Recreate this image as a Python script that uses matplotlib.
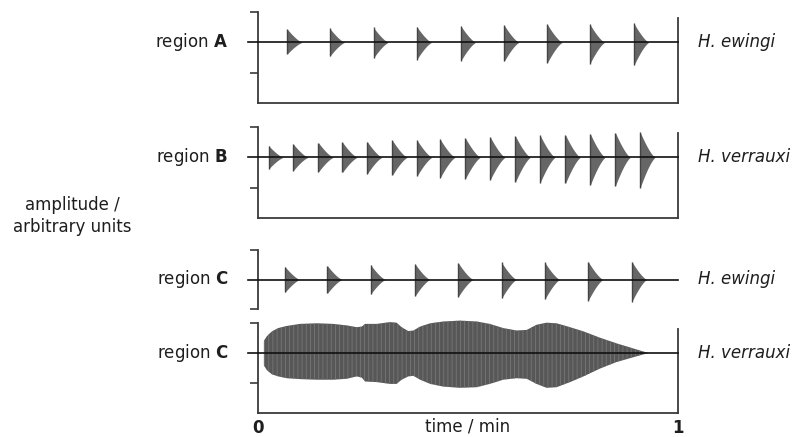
import matplotlib
matplotlib.use("Agg")
import matplotlib.pyplot as plt
import matplotlib.transforms as mtrans
import numpy as np

plt.rcParams['font.family'] = ['DejaVu Sans']
plt.rcParams['hatch.linewidth'] = 0.6

# burst onsets (fraction of 1 min) and peak amplitudes (upper / lower)
a_onsets = [0.070, 0.171, 0.275, 0.378, 0.483, 0.586, 0.689, 0.790, 0.895]
a_upper = [0.43, 0.46, 0.49, 0.52, 0.54, 0.57, 0.59, 0.60, 0.63]
a_lower = [0.38, 0.46, 0.52, 0.57, 0.61, 0.63, 0.67, 0.71, 0.76]

b_onsets = [0.025, 0.084, 0.144, 0.201, 0.260, 0.320, 0.379, 0.434,
            0.494, 0.553, 0.613, 0.672, 0.732, 0.791, 0.851, 0.910]
b_upper = [0.39, 0.44, 0.48, 0.50, 0.52, 0.56, 0.56, 0.59,
           0.63, 0.67, 0.70, 0.72, 0.74, 0.78, 0.81, 0.83]
b_lower = [0.39, 0.44, 0.48, 0.50, 0.55, 0.59, 0.61, 0.67,
           0.70, 0.74, 0.81, 0.83, 0.86, 0.92, 0.94, 1.00]

c_onsets = [0.064, 0.165, 0.268, 0.374, 0.477, 0.580, 0.683, 0.786, 0.890]
c_upper = [0.44, 0.47, 0.50, 0.53, 0.56, 0.58, 0.58, 0.61, 0.61]
c_lower = [0.44, 0.47, 0.50, 0.56, 0.58, 0.64, 0.67, 0.72, 0.76]

# continuous chorus envelope (H. verrauxi, region C)
v_time = [0.014, 0.021, 0.033, 0.048, 0.068, 0.100, 0.140, 0.179, 0.211, 0.235,
          0.247, 0.255, 0.283, 0.314, 0.330, 0.342, 0.358, 0.370, 0.386, 0.410,
          0.441, 0.481, 0.521, 0.552, 0.584, 0.616, 0.640, 0.663, 0.687, 0.711,
          0.743, 0.775, 0.814, 0.854, 0.894, 0.929]
v_upper = [0.40, 0.56, 0.72, 0.83, 0.90, 0.97, 0.99, 0.97, 0.92, 0.86,
           0.88, 0.97, 0.97, 1.03, 1.01, 0.86, 0.73, 0.75, 0.88, 0.99,
           1.05, 1.08, 1.05, 0.97, 0.83, 0.75, 0.77, 0.94, 1.01, 0.99,
           0.86, 0.72, 0.51, 0.32, 0.15, 0.0]
v_lower = [0.41, 0.57, 0.71, 0.78, 0.84, 0.87, 0.89, 0.89, 0.86, 0.78,
           0.82, 0.95, 0.97, 1.03, 1.03, 0.89, 0.78, 0.76, 0.89, 1.03,
           1.12, 1.16, 1.14, 1.03, 0.89, 0.84, 0.86, 1.03, 1.16, 1.14,
           0.97, 0.78, 0.52, 0.30, 0.14, 0.0]

regions = ['A', 'B', 'C', 'C']
species = ['H. ewingi', 'H. verrauxi', 'H. ewingi', 'H. verrauxi']

INK = '#1e1e1e'
SPINE = '#3a3a3a'
FS = 12

fig = plt.figure(figsize=(7.96, 4.37), dpi=100)
W, H = 796.0, 437.0
x0, w = 258 / W, 420 / W
boxes = [(12, 103), (127, 218), (250, 309), (323, 413)]
axes = []
for top, bot in boxes:
    axes.append(fig.add_axes([x0, 1 - bot / H, w, (bot - top) / H]))


def draw_bursts(ax, onsets, upper, lower, dur=0.036):
    s = np.linspace(0, 1, 40)
    for t0, au, al in zip(onsets, upper, lower):
        x = t0 + dur * s
        ax.fill_between(x, -al * (1 - s) ** 1.4, au * (1 - s) ** 1.4,
                        color='#666666', lw=0, zorder=2)
        ax.vlines(t0, -al, au, color='#444444', lw=1.0, zorder=2)


def style(ax, ylo, box=True):
    ax.set_xlim(0, 1)
    ax.set_ylim(ylo, 1)
    ax.spines['top'].set_visible(False)
    for sp in ax.spines.values():
        sp.set_color(SPINE)
        sp.set_linewidth(1.3)
    if box:
        ax.spines['right'].set_bounds(ylo, 0.8)
    else:
        ax.spines['right'].set_visible(False)
        ax.spines['bottom'].set_visible(False)
    ax.spines['left'].set_bounds(ylo, 1)
    ax.set_yticks([1, -1])
    ax.set_yticklabels([])
    ax.tick_params(axis='y', direction='out', length=6, width=1.2, color=SPINE)
    ax.set_xticks([])
    ax.plot([-0.024, 1.0], [0, 0], color='#111111', lw=1.2, clip_on=False, zorder=3)


draw_bursts(axes[0], a_onsets, a_upper, a_lower)
draw_bursts(axes[1], b_onsets, b_upper, b_lower)
draw_bursts(axes[2], c_onsets, c_upper, c_lower)
axes[3].fill_between(v_time, [-v for v in v_lower], v_upper, facecolor='#575757',
                     edgecolor='#777777', hatch='||||', lw=0, zorder=2,
                     clip_on=False)

style(axes[0], -2)
style(axes[1], -2)
style(axes[2], -1, box=False)
style(axes[3], -2)

axes[3].set_xticks([0, 1])
axes[3].set_xticklabels(['0', '1'], fontsize=FS, fontweight='bold', color=INK)
axes[3].tick_params(axis='x', length=0, pad=4)
axes[3].text(0.5, -0.15, 'time / min', transform=axes[3].transAxes, ha='center',
             va='center', fontsize=FS, color=INK)

for ax, reg, sp in zip(axes, regions, species):
    tr = mtrans.blended_transform_factory(fig.transFigure, ax.transData)
    ax.text(228 / W, 0, r'region $\mathbf{%s}$' % reg, transform=tr, ha='right',
            va='center', fontsize=FS, color=INK)
    ax.text(698 / W, 0, sp, transform=tr, ha='left', va='center', fontsize=FS,
            style='italic', color=INK)

fig.text(72 / W, 1 - 216 / H, 'amplitude /\narbitrary units', ha='center',
         va='center', fontsize=FS, color=INK, linespacing=1.25)

fig.savefig('out.png', dpi=100)
